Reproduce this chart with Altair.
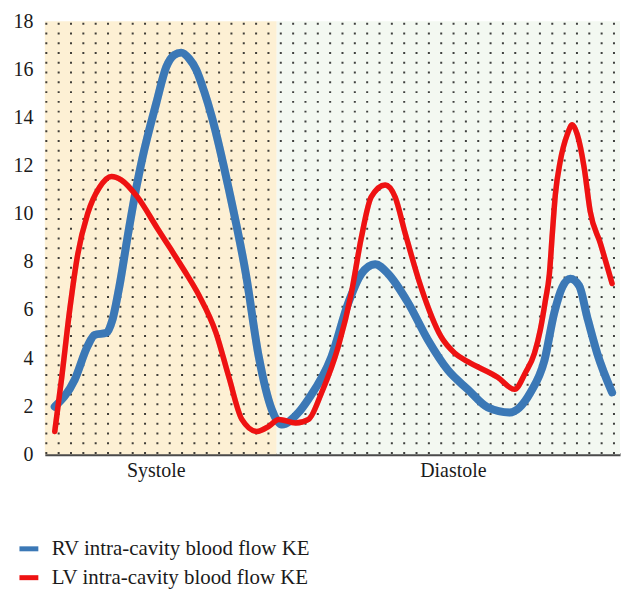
import altair as alt
import pandas as pd
import numpy as np

# ---- data (x in time units across the cycle, y = KE) ----
rv_x = [10, 30, 43, 50, 62, 68, 75, 83, 92, 98, 112, 122, 130, 137, 145, 152, 160, 168, 185, 202, 215, 228, 238, 255, 265, 288, 305, 318, 332, 345, 365, 385, 405, 425, 445, 467, 488, 502, 512, 520, 528, 537, 545, 555, 570]
rv_y = [1.98, 3.1, 4.5, 4.96, 5.05, 5.6, 7.0, 9.0, 11.1, 12.3, 14.6, 16.1, 16.6, 16.7, 16.45, 16.0, 15.1, 14.0, 11.0, 7.5, 4.05, 1.86, 1.24, 1.74, 2.3, 4.05, 6.3, 7.5, 7.9, 7.5, 6.3, 4.75, 3.5, 2.7, 1.95, 1.74, 2.57, 3.9, 5.9, 6.95, 7.3, 7.0, 5.7, 4.2, 2.57]

lv_x = [10, 17, 25, 33, 43, 55, 67, 77, 93, 113, 127, 140, 155, 172, 185, 198, 213, 225, 235, 252, 265, 278, 295, 308, 318, 328, 342, 352, 362, 378, 398, 412, 425, 455, 472, 483, 492, 498, 503, 507, 510, 513, 518, 525, 530, 535, 542, 548, 558, 570]
lv_y = [0.95, 3.2, 6.0, 8.3, 10.0, 11.1, 11.55, 11.4, 10.7, 9.4, 8.5, 7.65, 6.6, 5.05, 3.2, 1.45, 0.95, 1.16, 1.45, 1.3, 1.45, 2.55, 4.5, 6.7, 9.0, 10.7, 11.2, 10.7, 9.2, 6.95, 4.9, 4.2, 3.85, 3.2, 2.7, 3.4, 4.2, 5.2, 6.4, 7.5, 9.2, 10.8, 12.2, 13.3, 13.7, 13.3, 11.9, 10.1, 8.8, 7.1]

series_names = ["RV intra-cavity blood flow KE", "LV intra-cavity blood flow KE"]
series_colors = ["#3b78b6", "#ee1212"]

phase_names = ["Systole", "Diastole"]
phase_start = [0, 233]
phase_end = [233, 578]
phase_label_pos = [111.5, 410]
phase_colors = ["#fdf0d4", "#f3f8f1"]

y_ticks = [0, 2, 4, 6, 8, 10, 12, 14, 16, 18]
x_domain = [0, 578]
y_domain = [0, 18]

FONT = "Liberation Serif"

df = pd.concat([
    pd.DataFrame({"t": rv_x, "ke": rv_y, "series": series_names[0], "order": 1}),
    pd.DataFrame({"t": lv_x, "ke": lv_y, "series": series_names[1], "order": 0}),
])
phases = pd.DataFrame({"phase": phase_names, "start": phase_start, "end": phase_end})
dot_cols = pd.DataFrame({"t": np.arange(1.5, 578, 12.4)})

xs = alt.Scale(domain=x_domain, nice=False, zero=False)
ys = alt.Scale(domain=y_domain, nice=False)

bg = alt.Chart(phases).mark_rect().encode(
    x=alt.X("start:Q", scale=xs,
            axis=alt.Axis(values=phase_label_pos, title=None, ticks=False, grid=False,
                          labelExpr="datum.value < 300 ? 'Systole' : 'Diastole'",
                          labelFont=FONT, labelFontSize=20, labelColor="#1a1a1a",
                          labelPadding=6, domainColor="#4a4a4a", domainWidth=3)),
    x2="end:Q",
    y=alt.value(0),
    y2=alt.value(435),
    fill=alt.Fill("phase:N", scale=alt.Scale(domain=phase_names, range=phase_colors), legend=None),
)

dots = alt.Chart(dot_cols).mark_rule(
    color="#111111", strokeWidth=2, strokeDash=[2, 7.8], strokeDashOffset=-1.5, opacity=0.8
).encode(
    x=alt.X("t:Q", scale=xs),
    y=alt.value(0),
    y2=alt.value(435),
)

cscale = alt.Scale(domain=series_names, range=series_colors)
legend = alt.Legend(orient="none", legendX=-28, legendY=518, title=None,
                    symbolType="stroke", symbolSize=360, symbolStrokeWidth=5,
                    symbolOpacity=1, labelLimit=600,
                    labelFont=FONT, labelFontSize=21, labelColor="#1a1a1a",
                    labelOffset=11, rowPadding=7)

shadow = alt.Chart(df).mark_line(interpolate="monotone", opacity=0.22, strokeCap="round").encode(
    x=alt.X("t:Q", scale=xs),
    y=alt.Y("ke:Q", scale=ys),
    color=alt.Color("series:N", scale=cscale, legend=legend),
    strokeWidth=alt.StrokeWidth("series:N", scale=alt.Scale(domain=series_names, range=[8, 5.5]), legend=None),
    order="order:Q",
)

lines = alt.Chart(df).mark_line(interpolate="monotone", strokeCap="round").encode(
    x=alt.X("t:Q", scale=xs),
    y=alt.Y("ke:Q", scale=ys,
            axis=alt.Axis(values=y_ticks, title=None, ticks=False, grid=False, domain=False,
                          labelFont=FONT, labelFontSize=20, labelColor="#1a1a1a", labelPadding=12)),
    color=alt.Color("series:N", scale=cscale, legend=legend),
    strokeWidth=alt.StrokeWidth("series:N", scale=alt.Scale(domain=series_names, range=[5, 3.5]), legend=None),
    order="order:Q",
)

chart = alt.layer(bg, dots, shadow, lines).resolve_legend(strokeWidth="independent").properties(
    width=578, height=435,
    autosize=alt.AutoSizeParams(type="none"),
    padding={"left": 37, "top": 12, "right": 10, "bottom": 145},
).configure_view(strokeWidth=0)

chart.save("out.html", embed_options={"renderer": "svg", "actions": False})
